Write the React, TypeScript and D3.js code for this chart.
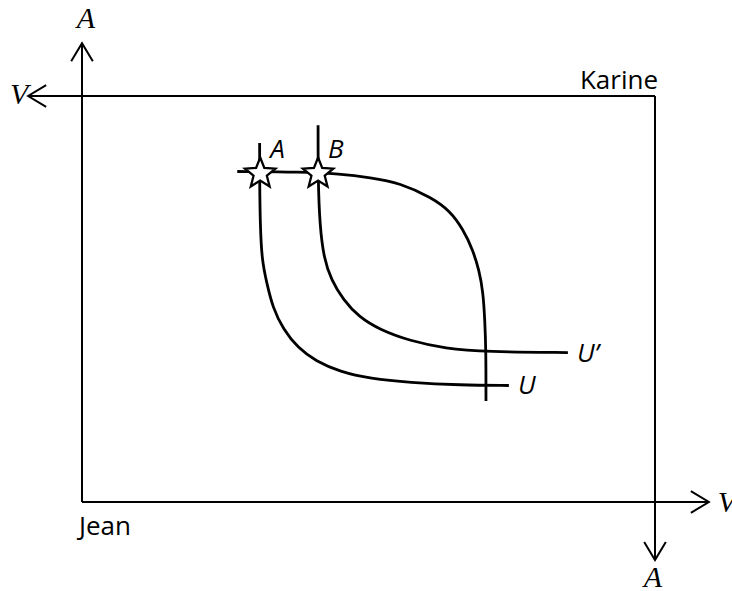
import React from "react";
import * as d3 from "d3";

// Edgeworth box: Jean origin bottom-left, Karine origin top-right (units of V and A)
const boxV = 10;
const boxA = 10;
// axis extents beyond the box (arrow tips)
const jeanAxisVTip = 10.94;
const jeanAxisATip = 11.3;
const karineAxisVTip = -0.94;
const karineAxisATip = -1.43;

// Jean's indifference curve U
const curveU: [number, number][] = [
  [3.10, 8.84], [3.10, 7.93], [3.11, 6.82], [3.14, 5.96], [3.22, 5.42], [3.33, 4.78],
  [3.51, 4.26], [3.77, 3.79], [4.08, 3.47], [4.50, 3.21], [5.03, 3.04], [5.72, 2.94],
  [6.60, 2.88], [7.45, 2.87],
];
// Jean's indifference curve U'
const curveU2: [number, number][] = [
  [4.12, 9.28], [4.12, 7.93], [4.15, 6.82], [4.22, 6.01], [4.35, 5.47], [4.56, 4.98],
  [4.83, 4.56], [5.20, 4.24], [5.72, 3.97], [6.34, 3.78], [7.05, 3.70], [8.48, 3.68],
];
// Karine's indifference curve
const curveK: [number, number][] = [
  [2.71, 8.14], [3.81, 8.13], [4.50, 8.08], [5.03, 7.99], [5.55, 7.86], [6.11, 7.49],
  [6.42, 7.17], [6.65, 6.72], [6.82, 6.21], [6.93, 5.71], [7.00, 5.17], [7.03, 4.48],
  [7.05, 3.74], [7.05, 2.49],
];
const stars = [
  { label: "A", v: 3.11, a: 8.09 },
  { label: "B", v: 4.12, a: 8.09 },
];
const curveLabels = [
  { label: "U", v: 7.45, a: 2.87 },
  { label: "U\u2019", v: 8.48, a: 3.68 },
];

const W = 732;
const H = 591;
const x = d3.scaleLinear().domain([0, 10]).range([82, 655]);
const y = d3.scaleLinear().domain([0, 10]).range([502, 96]);

function arrow(tx: number, ty: number, dx: number, dy: number) {
  const L = 21;
  const ang = (31 * Math.PI) / 180;
  const bx = -dx, by = -dy;
  const r = (a: number) => [
    tx + L * (bx * Math.cos(a) - by * Math.sin(a)),
    ty + L * (bx * Math.sin(a) + by * Math.cos(a)),
  ];
  const p1 = r(ang), p2 = r(-ang);
  return `M${p1[0]},${p1[1]}L${tx},${ty}L${p2[0]},${p2[1]}`;
}

function starPath(cx: number, cy: number, R: number, r: number) {
  const pts: string[] = [];
  for (let i = 0; i < 10; i++) {
    const rad = i % 2 === 0 ? R : r;
    const a = -Math.PI / 2 + (i * Math.PI) / 5;
    pts.push(`${cx + rad * Math.cos(a)},${cy + rad * Math.sin(a)}`);
  }
  return "M" + pts.join("L") + "Z";
}

export default function App() {
  const line = d3
    .line<[number, number]>()
    .x((d) => x(d[0]))
    .y((d) => y(d[1]))
    .curve(d3.curveBasis);
  const serif: React.CSSProperties = {
    fontFamily: "'Liberation Serif', 'DejaVu Serif', serif",
    fontStyle: "italic",
    fontSize: 30,
  };
  const sans: React.CSSProperties = { fontFamily: "'Open Sans', 'Liberation Sans', sans-serif" };
  return (
    <svg width={W} height={H} style={{ position: "absolute", left: 0, top: 0, background: "#fff" }}>
      <g stroke="#000" strokeWidth={2} fill="none">
        {/* Jean axes */}
        <line x1={x(0)} y1={y(0)} x2={x(0)} y2={y(jeanAxisATip)} />
        <path d={arrow(x(0), y(jeanAxisATip), 0, -1)} />
        <line x1={x(0)} y1={y(0)} x2={x(jeanAxisVTip)} y2={y(0)} />
        <path d={arrow(x(jeanAxisVTip), y(0), 1, 0)} />
        {/* Karine axes */}
        <line x1={x(boxV)} y1={y(boxA)} x2={x(karineAxisVTip)} y2={y(boxA)} />
        <path d={arrow(x(karineAxisVTip), y(boxA), -1, 0)} />
        <line x1={x(boxV)} y1={y(boxA)} x2={x(boxV)} y2={y(karineAxisATip)} />
        <path d={arrow(x(boxV), y(karineAxisATip), 0, 1)} />
      </g>
      <g stroke="#000" strokeWidth={2.8} fill="none">
        <path d={line(curveU) || ""} />
        <path d={line(curveU2) || ""} />
        <path d={line(curveK) || ""} />
      </g>
      {stars.map((s) => (
        <g key={s.label}>
          <path d={starPath(x(s.v), y(s.a), 16, 7)} fill="#fff" stroke="#000" strokeWidth={2.3} strokeLinejoin="miter" />
          <text x={x(s.v) + 10} y={y(s.a) - 16} style={{ ...sans, fontSize: 26, fontStyle: "italic" }}>
            {s.label}
          </text>
        </g>
      ))}
      {curveLabels.map((c) => (
        <text key={c.label} x={x(c.v) + 9} y={y(c.a) + 9} style={{ ...sans, fontSize: 26, fontStyle: "italic" }}>
          {c.label}
        </text>
      ))}
      {/* axis labels */}
      <text x={x(0) + 4} y={28} textAnchor="middle" style={serif}>A</text>
      <text x={x(karineAxisVTip) - 9} y={y(boxA) + 8} textAnchor="middle" style={serif}>V</text>
      <text x={x(jeanAxisVTip) + 18} y={y(0) + 10} textAnchor="middle" style={serif}>V</text>
      <text x={x(boxV) - 2} y={587} textAnchor="middle" style={serif}>A</text>
      <text x={x(0) - 3} y={535} style={{ ...sans, fontSize: 26 }}>Jean</text>
      <text x={x(boxV) + 3} y={89} textAnchor="end" style={{ ...sans, fontSize: 26 }}>Karine</text>
    </svg>
  );
}
